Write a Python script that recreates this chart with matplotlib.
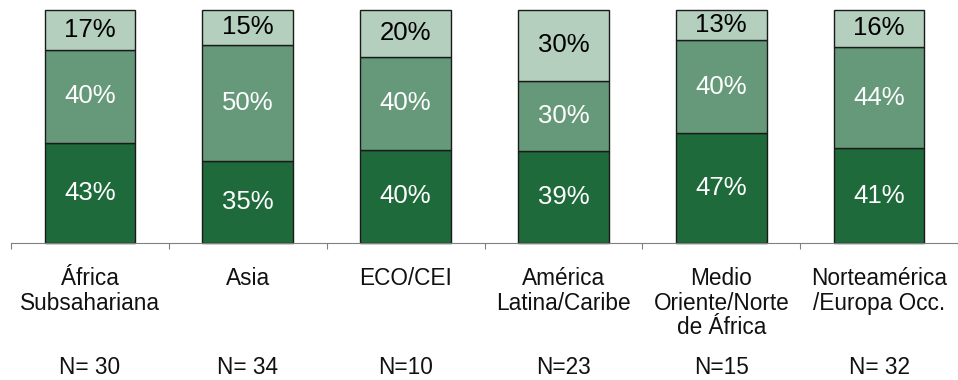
import matplotlib.pyplot as plt
from matplotlib.transforms import blended_transform_factory

plt.rcParams['font.family'] = ['Liberation Sans', 'DejaVu Sans']

regions = ["África\nSubsahariana", "Asia", "ECO/CEI", "América\nLatina/Caribe",
           "Medio\nOriente/Norte\nde África", "Norteamérica\n/Europa Occ."]
n_labels = ["N= 30", "N= 34", "N=10", "N=23", "N=15", "N= 32"]
bottom_vals = [43, 35, 40, 39, 47, 41]
middle_vals = [40, 50, 40, 30, 40, 44]
top_vals = [17, 15, 20, 30, 13, 16]

colors = ["#1e6a3b", "#66997a", "#b4cfbe"]
text_colors = ["white", "white", "black"]

fig = plt.figure(figsize=(9.58, 3.8), dpi=100)
ax = fig.add_axes([0.0115, 0.3605, 0.9885, 0.6132])

# 100% stacked: scale each column to its own total
totals = [b + m + t for b, m, t in zip(bottom_vals, middle_vals, top_vals)]

x = range(len(regions))
base = [0] * len(regions)
for vals, c, tc in zip([bottom_vals, middle_vals, top_vals], colors, text_colors):
    h = [v / t * 100 for v, t in zip(vals, totals)]
    ax.bar(x, h, 0.575, bottom=base, color=c, edgecolor="#1a1a1a",
           linewidth=1.0, clip_on=False, zorder=2)
    for i, v in enumerate(vals):
        ax.text(i, base[i] + h[i] / 2, f"{v}%", ha="center", va="center",
                color=tc, fontsize=18.5)
    base = [b + v for b, v in zip(base, h)]

ax.set_xlim(-0.5, 5.5)
ax.set_ylim(0, 100)
for s in ["top", "right", "left"]:
    ax.spines[s].set_visible(False)
ax.spines["bottom"].set_color("#808080")
ax.set_yticks([])
ax.set_xticks([i - 0.5 for i in range(len(regions) + 1)])
ax.set_xticklabels([])
ax.tick_params(axis="x", direction="out", length=4.5, color="#808080")

trans = blended_transform_factory(ax.transData, ax.transAxes)
for i, (r, n) in enumerate(zip(regions, n_labels)):
    ax.text(i, -0.105, r, ha="center", va="top", fontsize=16.3,
            linespacing=1.08, transform=trans, color="#111111")
    ax.text(i, -0.535, n, ha="center", va="center", fontsize=16.3,
            transform=trans, color="#111111")

fig.savefig("out.png", dpi=100)
